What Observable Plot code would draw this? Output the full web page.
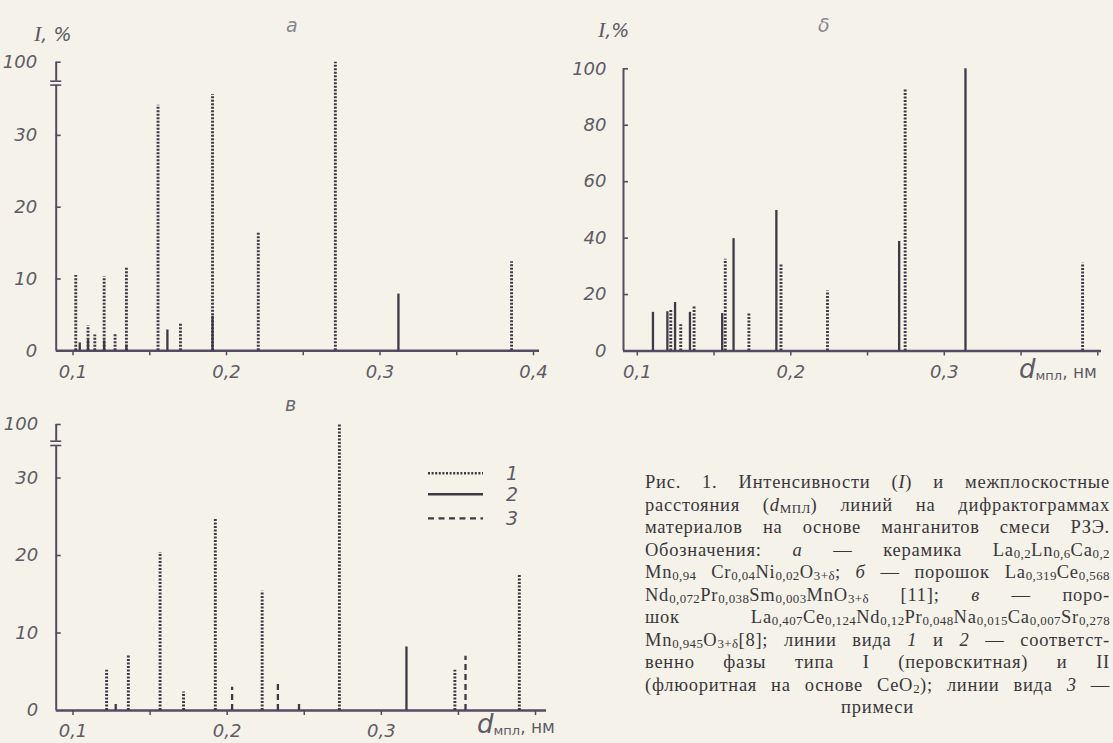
<!DOCTYPE html>
<html><head><meta charset="utf-8">
<script src="https://cdn.jsdelivr.net/npm/d3@7"></script>
<script src="https://cdn.jsdelivr.net/npm/@observablehq/plot@0.6"></script>
<style>
html,body{margin:0;padding:0;background:#f4f2e9;}
#page{position:relative;width:1113px;height:743px;overflow:hidden;background:#f4f2e9;font-family:"DejaVu Sans",sans-serif;color:#5f5b66;}
.abs{position:absolute;white-space:nowrap;}
.panel{position:absolute;}
.panel svg{overflow:visible;}
.lbl{font-style:italic;font-size:19px;line-height:20px;}
.dl{font-size:17px;line-height:22px;}
.dl i{font-size:26px;}
.dl sub{font-size:13px;vertical-align:-2px;}
#caption{position:absolute;left:645px;top:471px;font-family:"Liberation Serif",serif;font-size:18.5px;letter-spacing:0.75px;line-height:22.5px;color:#3a373c;}
#caption .ln{width:465px;height:22.5px;display:flex;justify-content:space-between;white-space:nowrap;}
#caption .ln.c{justify-content:center;}
#caption sub{font-size:0.7em;vertical-align:-0.12em;line-height:0;letter-spacing:0.4px;}
</style></head>
<body><div id="page"></div>
<script>
// ---------- data ----------
// panel а
const dA = [0.1018,0.1044,0.1098,0.1098,0.1142,0.1203,0.1203,0.1274,0.1348,0.1348,0.1554,0.1615,0.1700,0.1909,0.1909,0.2207,0.2709,0.3120,0.3857];
const iA = [10.5,1.1,3.5,1.5,2.2,10.3,1.4,2.3,11.7,0.8,34.2,2.9,3.8,35.7,4.8,16.5,100,7.9,12.4];
const tA = [1,2,1,2,1,1,2,1,1,2,1,2,1,1,2,1,1,2,1];
// panel б
const dB = [0.1102,0.1196,0.1218,0.1246,0.1283,0.1343,0.1370,0.1553,0.1573,0.1627,0.1727,0.1906,0.1936,0.2239,0.2706,0.2745,0.3138,0.3901];
const iB = [13.7,13.9,14.6,17.2,9.3,13.7,15.7,13.3,32.5,39.8,13.3,49.8,30.5,21.3,38.8,92.9,100,31.1];
const tB = [2,2,1,2,1,2,1,2,1,2,1,2,1,1,2,1,2,1];
// panel в
const dC = [0.1218,0.1277,0.1359,0.1565,0.1717,0.1923,0.2032,0.2227,0.2329,0.2466,0.2728,0.3163,0.3477,0.3546,0.3895];
const iC = [5.2,1.2,7.1,20.4,2.4,24.8,3.0,15.4,3.65,0.9,100,8.2,5.2,7.0,17.5];
const tC = [1,3,1,1,1,1,3,1,3,3,1,2,1,3,1];
// ticks
const xTickVals = [0.1,0.15,0.2,0.25,0.3,0.35,0.4];
const xLabelVals = [0.1,0.2,0.3,0.4];
const xLabelTextsA = ["0,1","0,2","0,3","0,4"];
const xLabelTextsBC = ["0,1","0,2","0,3",""];
const yTicksA = [0,10,20,30,100];
const yTicksB = [0,20,40,60,80,100];
const yTicksC = [0,10,20,30,100];
const legendLabels = ["1","2","3"];

// ---------- styles ----------
const INK = "#3e3946";
const AXIS = "#574a63";
const TXT = "#5f5b66";
const lineStyle = {
  1: {strokeWidth: 2.9, strokeDasharray: "2,1.5"},
  2: {strokeWidth: 2.3, strokeDasharray: null},
  3: {strokeWidth: 2.3, strokeDasharray: "6,4"}
};

function panel(o) {
  const xs = d3.scaleLinear(o.xDomain, o.xRange);
  const ys = d3.scaleLinear(o.yDomain, o.yRange);
  const x0 = xs.invert(o.axisX);
  const xEnd = xs.invert(o.axisEnd);
  const xTick = xs.invert(o.axisX + 5);
  const rows = o.d.map((v, i) => ({d: v, I: o.I[i], type: o.t[i]}));
  const baseline = ys(0);
  const marks = [];
  if (o.breakPx) {
    const lo = ys.invert(o.breakPx[0]);
    const hi = ys.invert(o.breakPx[1]);
    marks.push(Plot.ruleX([x0], {y1: 0, y2: lo, stroke: AXIS, strokeWidth: 2}));
    marks.push(Plot.ruleX([x0], {y1: hi, y2: 100, stroke: AXIS, strokeWidth: 2}));
    marks.push(Plot.ruleY([lo, hi], {y: d => d, x1: xs.invert(o.axisX - 5.5), x2: xs.invert(o.axisX + 5.5), stroke: AXIS, strokeWidth: 1.6}));
  } else {
    marks.push(Plot.ruleX([x0], {y1: 0, y2: 100, stroke: AXIS, strokeWidth: 2}));
  }
  marks.push(Plot.ruleY(o.yTicks.filter(v => v > 0), {y: d => d, x1: x0, x2: xTick, stroke: AXIS, strokeWidth: 1.6}));
  marks.push(Plot.ruleY([0], {x1: x0, x2: xEnd, stroke: AXIS, strokeWidth: 2.4}));
  marks.push(Plot.axisX(xTickVals, {
    label: null, tickSize: 5, tickPadding: 9, stroke: AXIS, strokeWidth: 1.5, fill: TXT,
    fontSize: 18, fontStyle: "italic", fontFamily: "DejaVu Sans",
    tickFormat: v => { const k = xLabelVals.findIndex(u => Math.abs(u - v) < 1e-9); return k >= 0 ? o.xLabels[k] : ""; }
  }));
  marks.push(Plot.axisY(o.yTicks, {
    label: null, tickSize: 0, tickPadding: o.yPad, fill: TXT,
    fontSize: 18, fontStyle: "italic", fontFamily: "DejaVu Sans", tickFormat: v => String(v)
  }));
  for (const type of [2, 1, 3]) {
    marks.push(Plot.ruleX(rows.filter(r => r.type === type), {
      x: "d", y1: 0, y2: "I", stroke: INK, strokeLinecap: "butt", ...lineStyle[type]
    }));
  }
  return Plot.plot({
    width: o.width, height: o.height,
    marginLeft: o.axisX, marginRight: 0, marginTop: 0, marginBottom: o.height - baseline,
    x: {type: "linear", domain: o.xDomain, range: o.xRange},
    y: {type: "linear", domain: o.yDomain, range: o.yRange},
    style: {background: "transparent", overflow: "visible", fontFamily: "DejaVu Sans", color: TXT},
    marks
  });
}

const page = document.getElementById("page");
function place(el, left, top) {
  const w = document.createElement("div");
  w.className = "panel"; w.style.left = left + "px"; w.style.top = top + "px";
  w.appendChild(el); page.appendChild(w);
}
place(panel({
  d: dA, I: iA, t: tA, width: 560, height: 395,
  xDomain: [0.1, 0.4], xRange: [72.5, 533], axisX: 55.7, axisEnd: 539,
  yDomain: [0, 37, 100], yRange: [350.3, 84.6, 61.7], breakPx: [84.6, 80.7],
  yTicks: yTicksA, yPad: 19, xLabels: xLabelTextsA
}), 0, 0);
place(panel({
  d: dB, I: iB, t: tB, width: 553, height: 395,
  xDomain: [0.1, 0.3], xRange: [76.8, 383.8], axisX: 63, axisEnd: 541,
  yDomain: [0, 100], yRange: [350.5, 68.3],
  yTicks: yTicksB, yPad: 17, xLabels: xLabelTextsBC
}), 560, 0);
place(panel({
  d: dC, I: iC, t: tC, width: 560, height: 348,
  xDomain: [0.1, 0.4], xRange: [72.5, 535], axisX: 55.7, axisEnd: 546,
  yDomain: [0, 34.2, 100], yRange: [315, 50, 29], breakPx: [50, 45.7],
  yTicks: yTicksC, yPad: 18, xLabels: xLabelTextsBC
}), 0, 395);

// ---------- text overlays ----------
function txt(html, cls, left, top) {
  const e = document.createElement("div");
  e.className = "abs " + cls; e.style.left = left + "px"; e.style.top = top + "px";
  e.innerHTML = html; page.appendChild(e); return e;
}
txt('<span style="font-family:\'Liberation Serif\';font-size:22px">I</span>, %', "lbl", 34, 24);
txt('<span style="font-family:\'Liberation Serif\';font-size:22px">I</span>,%', "lbl", 598, 20);
txt("а", "lbl", 286, 15).style.color = "#8a8790";
txt("δ", "lbl", 818, 15).style.color = "#8a8790";
txt("в", "lbl", 285, 394).style.color = "#6a6670";
txt('<i>d</i><sub>мпл</sub>, нм', "dl", 1019, 358);
txt('<i>d</i><sub>мпл</sub>, нм', "dl", 477, 713);

// legend of panel в
const ns = "http://www.w3.org/2000/svg";
const lg = document.createElementNS(ns, "svg");
lg.setAttribute("width", 120); lg.setAttribute("height", 80);
lg.style.position = "absolute"; lg.style.left = "420px"; lg.style.top = "460px";
[13.3, 34.3, 58.3].forEach((y, i) => {
  const l = document.createElementNS(ns, "line");
  l.setAttribute("x1", 8); l.setAttribute("x2", 63); l.setAttribute("y1", y); l.setAttribute("y2", y);
  l.setAttribute("stroke", INK);
  l.setAttribute("stroke-width", [2.5, 2.6, 2.2][i]);
  if (i === 0) l.setAttribute("stroke-dasharray", "2,1.6");
  if (i === 2) l.setAttribute("stroke-dasharray", "6,4.5");
  lg.appendChild(l);
  const t = document.createElementNS(ns, "text");
  t.setAttribute("x", 92); t.setAttribute("y", y + 7); t.setAttribute("text-anchor", "middle");
  t.setAttribute("font-style", "italic"); t.setAttribute("font-size", 19);
  t.setAttribute("font-family", "DejaVu Sans"); t.setAttribute("fill", TXT);
  t.textContent = legendLabels[i];
  lg.appendChild(t);
});
page.appendChild(lg);

// ---------- caption ----------
const captionLines = [
  "Рис. 1. Интенсивности (<i>I</i>) и межплоскостные",
  "расстояния (<i>d</i><sub>МПЛ</sub>) линий на дифрактограммах",
  "материалов на основе манганитов смеси РЗЭ.",
  "Обозначения: <i>а</i> — керамика La<sub>0,2</sub>Ln<sub>0,6</sub>Ca<sub>0,2</sub>",
  "Mn<sub>0,94</sub> Cr<sub>0,04</sub>Ni<sub>0,02</sub>O<sub>3+δ</sub>; <i>б</i> — порошок La<sub>0,319</sub>Ce<sub>0,568</sub>",
  "Nd<sub>0,072</sub>Pr<sub>0,038</sub>Sm<sub>0,003</sub>MnO<sub>3+δ</sub> [11]; <i>в</i> — поро-",
  "шок La<sub>0,407</sub>Ce<sub>0,124</sub>Nd<sub>0,12</sub>Pr<sub>0,048</sub>Na<sub>0,015</sub>Ca<sub>0,007</sub>Sr<sub>0,278</sub>",
  "Mn<sub>0,945</sub>O<sub>3+δ</sub>[8]; линии вида <i>1</i> и <i>2</i> — соответст-",
  "венно фазы типа I (перовскитная) и II",
  "(флюоритная на основе CeO<sub>2</sub>); линии вида <i>3</i> —",
  "примеси"
];
const cap = document.createElement("div");
cap.id = "caption";
captionLines.forEach((s, i) => {
  const ln = document.createElement("div");
  ln.className = "ln" + (i === captionLines.length - 1 ? " c" : "");
  s.split(" ").forEach(w => { const sp = document.createElement("span"); sp.innerHTML = w; ln.appendChild(sp); });
  cap.appendChild(ln);
});
page.appendChild(cap);
</script>
</body></html>
